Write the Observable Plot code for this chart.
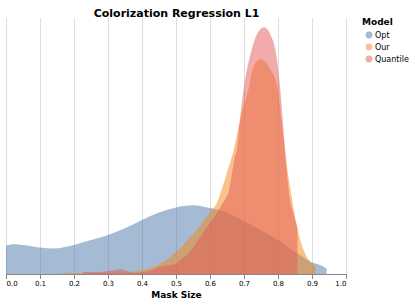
<!DOCTYPE html>
<html>
<head>
<meta charset="utf-8">
<script src="https://cdn.jsdelivr.net/npm/d3@7"></script>
<script src="https://cdn.jsdelivr.net/npm/@observablehq/plot@0.6"></script>
<style>
  html, body { margin: 0; padding: 0; background: #fff; }
  #chart { position: relative; width: 415px; height: 306px; }
</style>
</head>
<body>
<div id="chart"></div>
<script>
// ---- data ----
const chartTitle = "Colorization Regression L1";
const xTitle = "Mask Size";
const legendTitle = "Model";
const models = ["Opt", "Our", "Quantile"];
const modelColors = ["#4c78a8", "#f58518", "#e45756"];
const xTicks = [0, 0.1, 0.2, 0.3, 0.4, 0.5, 0.6, 0.7, 0.8, 0.9, 1.0];
const xTickLabels = ["0.0", "0.1", "0.2", "0.3", "0.4", "0.5", "0.6", "0.7", "0.8", "0.9", "1.0"];

const optX = [0.0, 0.025, 0.05, 0.1, 0.14, 0.2, 0.25, 0.3, 0.35, 0.4, 0.45, 0.5, 0.55, 0.6, 0.64, 0.7, 0.74, 0.8, 0.835, 0.865, 0.895, 0.925, 0.943];
const optDensity = [0.89, 0.93, 0.91, 0.83, 0.80, 0.91, 1.06, 1.22, 1.43, 1.69, 1.92, 2.08, 2.15, 2.06, 1.95, 1.66, 1.42, 1.06, 0.80, 0.59, 0.38, 0.27, 0.17];

const ourX = [0.167, 0.2, 0.25, 0.3, 0.37, 0.41, 0.45, 0.5, 0.535, 0.57, 0.6, 0.62, 0.634, 0.654, 0.67, 0.682, 0.696, 0.715, 0.725, 0.747, 0.778, 0.798, 0.81, 0.818, 0.828, 0.842, 0.85, 0.86, 0.872, 0.885, 0.899, 0.911];
const ourDensity = [0.05, 0.03, 0.03, 0.04, 0.07, 0.14, 0.30, 0.69, 1.06, 1.50, 1.94, 2.22, 2.63, 3.31, 3.88, 4.50, 5.13, 5.85, 6.38, 6.71, 6.38, 5.85, 4.81, 4.19, 3.25, 2.31, 1.78, 1.28, 0.84, 0.53, 0.34, 0.23];

const quantileX = [0.227, 0.27, 0.3, 0.335, 0.36, 0.375, 0.4, 0.424, 0.453, 0.5, 0.512, 0.541, 0.565, 0.6, 0.615, 0.63, 0.645, 0.655, 0.664, 0.672, 0.68, 0.688, 0.7, 0.72, 0.74, 0.759, 0.778, 0.794, 0.806, 0.814, 0.82, 0.828, 0.835, 0.845, 0.857];
const quantileDensity = [0.06, 0.06, 0.09, 0.15, 0.08, 0.04, 0.06, 0.10, 0.23, 0.31, 0.44, 0.69, 1.06, 1.59, 1.81, 2.09, 2.34, 2.56, 3.09, 3.60, 3.95, 4.81, 5.85, 6.91, 7.53, 7.71, 7.47, 6.91, 5.85, 4.81, 3.88, 2.94, 2.31, 1.91, 1.47];

// ---- build table ----
const series = [[optX, optDensity], [ourX, ourDensity], [quantileX, quantileDensity]];
const rows = [];
series.forEach(([xs, ds], i) => xs.forEach((x, j) => rows.push({model: models[i], x, density: ds[j]})));

const font = "DejaVu Sans, sans-serif";
const tickCommon = {tickSize: 5, tickPadding: 2, stroke: "#888", fill: "black", fontSize: 7, label: null};

const plot = Plot.plot({
  width: 415,
  height: 306,
  marginLeft: 6,
  marginRight: 69,
  marginTop: 18,
  marginBottom: 32,
  style: {fontFamily: font, background: "white", color: "black"},
  x: {domain: [0, 1], label: null},
  y: {domain: [0, 8], axis: null},
  color: {domain: models, range: modelColors},
  marks: [
    Plot.gridX(xTicks, {stroke: "#ddd", strokeOpacity: 1}),
    Plot.areaY(rows, {x: "x", y1: 0, y2: "density", z: "model", fill: "model", fillOpacity: 0.5, curve: "monotone-x"}),
    Plot.ruleY([0], {stroke: "#888"}),
    Plot.axisX(xTicks.slice(1, -1), {...tickCommon, tickFormat: (d) => xTickLabels[xTicks.indexOf(d)]}),
    Plot.axisX([xTicks[0]], {...tickCommon, textAnchor: "start", tickFormat: () => xTickLabels[0]}),
    Plot.axisX([xTicks[xTicks.length - 1]], {...tickCommon, textAnchor: "end", tickFormat: () => xTickLabels[xTickLabels.length - 1]}),
    Plot.text([xTitle], {text: (d) => d, frameAnchor: "bottom", dy: 23, fontWeight: "bold", fontSize: 9, fill: "black"}),
    Plot.text([chartTitle], {text: (d) => d, frameAnchor: "top", dy: -9, fontWeight: "bold", fontSize: 11, fill: "black"})
  ]
});

// ---- legend ----
const svg = d3.select(plot);
const lg = svg.append("g").attr("font-family", font).attr("text-anchor", "start");
lg.append("text").attr("x", 362).attr("y", 25).attr("font-size", 9).attr("font-weight", "bold").attr("fill", "black").text(legendTitle);
models.forEach((m, i) => {
  const cy = 35 + i * 12;
  lg.append("circle").attr("cx", 369).attr("cy", cy).attr("r", 3.4)
    .attr("fill", modelColors[i]).attr("fill-opacity", 0.5);
  lg.append("text").attr("x", 375).attr("y", cy).attr("dy", "0.35em")
    .attr("font-size", 8).attr("fill", "black").text(m);
});

document.getElementById("chart").appendChild(plot);
</script>
</body>
</html>
